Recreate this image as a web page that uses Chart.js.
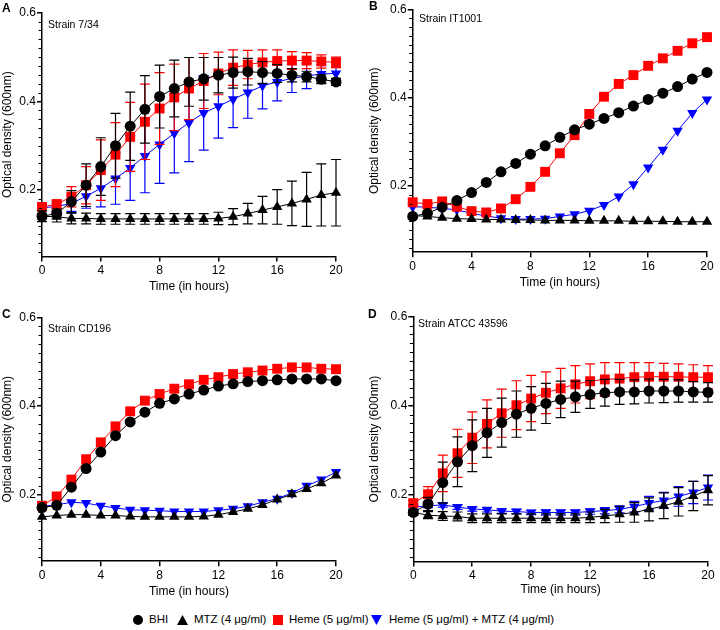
<!DOCTYPE html>
<html>
<head>
<meta charset="utf-8">
<script src="https://cdn.jsdelivr.net/npm/chart.js@4/dist/chart.umd.min.js"></script>
<style>
  body { margin: 0; background: #fff; width: 720px; height: 630px; position: relative; overflow: hidden;
         font-family: 'Liberation Sans', Arial, sans-serif; color: #000; }
  canvas { position: absolute; }
  .lbl { position: absolute; line-height: 1; white-space: nowrap; }
  .letter { font-weight: bold; font-size: 12px; }
  .strain { font-size: 10.5px; }
  .mk { position: absolute; }
  .lt { position: absolute; font-size: 11.5px; line-height: 1; white-space: nowrap; }
</style>
</head>
<body>
<canvas id="chartA" width="360" height="300" style="left:0;top:0"></canvas>
<canvas id="chartB" width="360" height="300" style="left:360px;top:0"></canvas>
<canvas id="chartC" width="360" height="300" style="left:0;top:300px"></canvas>
<canvas id="chartD" width="360" height="300" style="left:360px;top:300px"></canvas>

<div class="lbl letter" style="left:2px;top:2px">A</div>
<div class="lbl letter" style="left:369px;top:0px">B</div>
<div class="lbl letter" style="left:2px;top:308px">C</div>
<div class="lbl letter" style="left:368px;top:308px">D</div>

<div class="lbl strain" style="left:48px;top:19px">Strain 7/34</div>
<div class="lbl strain" style="left:419px;top:13px">Strain IT1001</div>
<div class="lbl strain" style="left:48px;top:323px">Strain CD196</div>
<div class="lbl strain" style="left:418px;top:318px">Strain ATCC 43596</div>

<div id="legend"></div>

<script>
// time points (hours)
const hours = [0, 1, 2, 3, 4, 5, 6, 7, 8, 9, 10, 11, 12, 13, 14, 15, 16, 17, 18, 19, 20];
const xTicks = [0, 4, 8, 12, 16, 20];
const yTicks = [0.2, 0.4, 0.6];
const seriesNames = ['BHI', 'MTZ (4 μg/ml)', 'Heme (5 μg/ml)', 'Heme (5 μg/ml) + MTZ (4 μg/ml)'];

// A - Strain 7/34
const bhiA = [0.141, 0.147, 0.174, 0.211, 0.253, 0.300, 0.344, 0.382, 0.411, 0.429, 0.444, 0.451, 0.459, 0.465, 0.467, 0.465, 0.463, 0.459, 0.456, 0.450, 0.444];
const bhiErrA = [0.006, 0.010, 0.025, 0.048, 0.065, 0.073, 0.077, 0.076, 0.071, 0.064, 0.055, 0.048, 0.040, 0.035, 0.030, 0.025, 0.020, 0.015, 0.012, 0.010, 0.008];
const mtzA = [0.141, 0.140, 0.136, 0.136, 0.135, 0.135, 0.135, 0.135, 0.135, 0.135, 0.135, 0.135, 0.136, 0.140, 0.147, 0.155, 0.162, 0.170, 0.179, 0.189, 0.194];
const mtzErrA = [0.012, 0.012, 0.012, 0.012, 0.012, 0.012, 0.012, 0.012, 0.012, 0.012, 0.012, 0.012, 0.014, 0.018, 0.023, 0.031, 0.039, 0.050, 0.061, 0.070, 0.075];
const hemeA = [0.162, 0.168, 0.185, 0.211, 0.245, 0.280, 0.320, 0.354, 0.384, 0.409, 0.429, 0.446, 0.463, 0.476, 0.483, 0.488, 0.491, 0.492, 0.492, 0.490, 0.488];
const hemeErrA = [0.008, 0.010, 0.023, 0.042, 0.068, 0.072, 0.078, 0.085, 0.081, 0.075, 0.070, 0.062, 0.048, 0.040, 0.032, 0.028, 0.025, 0.020, 0.018, 0.015, 0.012];
const comboA = [0.160, 0.163, 0.170, 0.186, 0.204, 0.226, 0.250, 0.277, 0.303, 0.328, 0.352, 0.374, 0.389, 0.405, 0.420, 0.435, 0.444, 0.452, 0.457, 0.462, 0.463];
const comboErrA = [0.006, 0.010, 0.018, 0.027, 0.042, 0.058, 0.073, 0.083, 0.088, 0.089, 0.088, 0.084, 0.072, 0.064, 0.058, 0.052, 0.043, 0.032, 0.028, 0.021, 0.015];

// B - Strain IT1001
const bhiB = [0.131, 0.138, 0.152, 0.167, 0.185, 0.208, 0.232, 0.251, 0.272, 0.291, 0.310, 0.327, 0.340, 0.353, 0.366, 0.381, 0.396, 0.410, 0.425, 0.442, 0.457];
const mtzB = [0.133, 0.131, 0.128, 0.126, 0.125, 0.124, 0.124, 0.123, 0.123, 0.122, 0.122, 0.122, 0.121, 0.121, 0.121, 0.120, 0.120, 0.120, 0.119, 0.119, 0.119];
const hemeB = [0.163, 0.159, 0.165, 0.153, 0.143, 0.140, 0.149, 0.170, 0.198, 0.232, 0.274, 0.315, 0.363, 0.402, 0.431, 0.451, 0.472, 0.489, 0.506, 0.523, 0.537];
const comboB = [0.153, 0.152, 0.149, 0.146, 0.138, 0.132, 0.127, 0.125, 0.125, 0.126, 0.131, 0.136, 0.144, 0.157, 0.176, 0.204, 0.242, 0.282, 0.325, 0.365, 0.396];

// C - Strain CD196
const bhiC = [0.171, 0.176, 0.217, 0.259, 0.296, 0.333, 0.364, 0.386, 0.406, 0.416, 0.427, 0.436, 0.445, 0.450, 0.455, 0.457, 0.459, 0.461, 0.461, 0.461, 0.457];
const mtzC = [0.150, 0.153, 0.155, 0.155, 0.153, 0.153, 0.151, 0.150, 0.150, 0.150, 0.150, 0.151, 0.155, 0.161, 0.168, 0.177, 0.189, 0.201, 0.213, 0.226, 0.243];
const hemeC = [0.175, 0.196, 0.234, 0.280, 0.318, 0.354, 0.388, 0.412, 0.427, 0.439, 0.449, 0.459, 0.465, 0.472, 0.476, 0.480, 0.484, 0.487, 0.487, 0.484, 0.483];
const comboC = [0.174, 0.177, 0.183, 0.181, 0.175, 0.170, 0.166, 0.165, 0.164, 0.162, 0.162, 0.162, 0.165, 0.168, 0.174, 0.183, 0.191, 0.204, 0.220, 0.234, 0.251];

// D - Strain ATCC 43596
const bhiD = [0.160, 0.179, 0.227, 0.274, 0.310, 0.339, 0.362, 0.381, 0.394, 0.405, 0.414, 0.420, 0.425, 0.429, 0.431, 0.431, 0.433, 0.433, 0.433, 0.431, 0.430];
const bhiErrD = [0.005, 0.015, 0.046, 0.056, 0.058, 0.055, 0.055, 0.052, 0.049, 0.045, 0.041, 0.035, 0.031, 0.030, 0.028, 0.027, 0.027, 0.026, 0.025, 0.023, 0.022];
const mtzD = [0.160, 0.154, 0.152, 0.151, 0.147, 0.147, 0.147, 0.147, 0.147, 0.147, 0.147, 0.147, 0.149, 0.152, 0.156, 0.160, 0.167, 0.175, 0.184, 0.197, 0.210];
const mtzErrD = [0.006, 0.008, 0.010, 0.010, 0.010, 0.010, 0.010, 0.010, 0.010, 0.010, 0.010, 0.010, 0.012, 0.015, 0.018, 0.022, 0.026, 0.029, 0.032, 0.033, 0.033];
const hemeD = [0.181, 0.201, 0.248, 0.293, 0.328, 0.359, 0.383, 0.401, 0.416, 0.429, 0.439, 0.448, 0.455, 0.459, 0.461, 0.464, 0.465, 0.465, 0.465, 0.464, 0.464];
const hemeErrD = [0.006, 0.017, 0.041, 0.054, 0.058, 0.054, 0.054, 0.055, 0.052, 0.047, 0.045, 0.042, 0.039, 0.038, 0.036, 0.033, 0.032, 0.030, 0.029, 0.028, 0.026];
const comboD = [0.172, 0.175, 0.177, 0.172, 0.168, 0.166, 0.163, 0.162, 0.160, 0.160, 0.160, 0.160, 0.162, 0.164, 0.167, 0.173, 0.181, 0.187, 0.196, 0.205, 0.216];
const comboErrD = [0.004, 0.004, 0.005, 0.005, 0.005, 0.005, 0.005, 0.005, 0.005, 0.006, 0.006, 0.006, 0.006, 0.007, 0.008, 0.012, 0.015, 0.018, 0.022, 0.025, 0.028];

const FONT = "'Liberation Sans', Arial, sans-serif";

// marker look per series (same order as seriesNames)
const looks = [
  { color: '#000000', style: 'circle', radius: 5.5, rotation: 0 },
  { color: '#000000', style: 'triangle', radius: 6, rotation: 0 },
  { color: '#ff0000', style: 'rect', radius: 7, rotation: 0 },
  { color: '#0000ff', style: 'triangle', radius: 6, rotation: 180 }
];

// error bars drawn just before each dataset so the layering follows the series
const errorBars = {
  id: 'errorBars',
  beforeDatasetDraw(chart, args) {
    const ds = chart.data.datasets[args.index];
    if (!ds.errors) return;
    const y = chart.scales.y;
    const ctx = chart.ctx;
    ctx.save();
    ctx.strokeStyle = ds.borderColor;
    ctx.lineWidth = 1.2;
    ctx.beginPath();
    args.meta.data.forEach((pt, i) => {
      const e = ds.errors[i];
      if (!e) return;
      const v = ds.data[i].y;
      const top = y.getPixelForValue(v + e);
      const bot = y.getPixelForValue(v - e);
      ctx.moveTo(pt.x, top); ctx.lineTo(pt.x, bot);
      ctx.moveTo(pt.x - 5, top); ctx.lineTo(pt.x + 5, top);
      ctx.moveTo(pt.x - 5, bot); ctx.lineTo(pt.x + 5, bot);
    });
    ctx.stroke();
    ctx.restore();
  }
};

// small ticks every 0.02 on the y axis
const minorTicks = {
  id: 'minorTicks',
  afterDraw(chart) {
    const y = chart.scales.y;
    const ctx = chart.ctx;
    const x0 = chart.chartArea.left;
    ctx.save();
    ctx.strokeStyle = '#000';
    ctx.lineWidth = 1;
    ctx.beginPath();
    for (let k = 3; k < 30; k++) {
      if (k % 10 === 0) continue;
      const py = Math.round(y.getPixelForValue(k * 0.02)) + 0.5;
      ctx.moveTo(x0, py);
      ctx.lineTo(x0 - 3.5, py);
    }
    ctx.stroke();
    ctx.restore();
  }
};

function makePanel(id, values, errors, g) {
  const datasets = values.map((vals, s) => ({
    label: seriesNames[s],
    data: hours.map((h, i) => ({ x: h, y: vals[i] })),
    errors: errors ? errors[s] : null,
    borderColor: looks[s].color,
    backgroundColor: looks[s].color,
    borderWidth: 1,
    pointStyle: looks[s].style,
    pointRadius: looks[s].radius,
    pointRotation: looks[s].rotation,
    pointBorderWidth: 0,
    pointBackgroundColor: looks[s].color,
    tension: 0,
    clip: false
  }));

  new Chart(document.getElementById(id), {
    type: 'line',
    data: { datasets: datasets },
    plugins: [errorBars, minorTicks],
    options: {
      responsive: false,
      animation: false,
      events: [],
      layout: { padding: { left: 0, top: g.top, right: 360 - g.right, bottom: 0 } },
      plugins: { legend: { display: false }, tooltip: { enabled: false } },
      scales: {
        x: {
          type: 'linear',
          min: 0, max: 20,
          afterBuildTicks: s => { s.ticks = xTicks.map(v => ({ value: v })); },
          afterFit: s => { s.height = 300 - g.bottom; },
          ticks: { color: '#000', font: { family: FONT, size: 12 }, padding: 2, maxRotation: 0, autoSkip: false },
          grid: { display: true, drawOnChartArea: false, color: '#000', lineWidth: 1.5, tickLength: 5 },
          border: { display: true, color: '#000', width: 1.5 },
          title: { display: true, text: 'Time (in hours)', color: '#000',
                   font: { family: FONT, size: 12 }, padding: { top: 0, bottom: g.xTitle } }
        },
        y: {
          type: 'linear',
          min: 0.05, max: 0.6,
          afterBuildTicks: s => { s.ticks = yTicks.map(v => ({ value: v })); },
          afterFit: s => { s.width = g.left; },
          ticks: { color: '#000', font: { family: FONT, size: 12 }, padding: 1,
                   callback: v => v.toFixed(1) },
          grid: { display: true, drawOnChartArea: false, color: '#000', lineWidth: 1.5, tickLength: 5 },
          border: { display: true, color: '#000', width: 1.5 },
          title: { display: true, text: 'Optical density (600nm)', color: '#000',
                   font: { family: FONT, size: 12 }, padding: { top: g.yTitle, bottom: 0 } }
        }
      }
    }
  });
}

makePanel('chartA', [bhiA, mtzA, hemeA, comboA], [bhiErrA, mtzErrA, hemeErrA, comboErrA],
  { left: 42, right: 336, top: 12.7, bottom: 256.6, yTitle: 0.8, xTitle: 5.8 });
makePanel('chartB', [bhiB, mtzB, hemeB, comboB], null,
  { left: 52.7, right: 347, top: 9.3, bottom: 252.2, yTitle: 7.3, xTitle: 9.8 });
makePanel('chartC', [bhiC, mtzC, hemeC, comboC], null,
  { left: 42, right: 336, top: 17.3, bottom: 261.2, yTitle: 0.8, xTitle: 1.1 });
makePanel('chartD', [bhiD, mtzD, hemeD, comboD], [bhiErrD, mtzErrD, hemeErrD, comboErrD],
  { left: 53.3, right: 348, top: 16.7, bottom: 261.4, yTitle: 7.3, xTitle: 2.8 });

// shared legend under the panels
const legendPos = [
  { mark: 133, text: 149 },
  { mark: 177, text: 194 },
  { mark: 273, text: 289 },
  { mark: 371, text: 389 }
];
const legend = document.getElementById('legend');
seriesNames.forEach((name, s) => {
  const m = document.createElement('div');
  m.className = 'mk';
  const lk = looks[s];
  let w = 10, h = 10, extra = '';
  if (lk.style === 'circle') extra = 'border-radius:50%;';
  if (lk.style === 'triangle') {
    w = 11;
    extra = lk.rotation ? 'clip-path:polygon(0 0,100% 0,50% 100%);' : 'clip-path:polygon(50% 0,100% 100%,0 100%);';
  }
  m.style.cssText = `left:${legendPos[s].mark}px;top:${620 - h / 2}px;width:${w}px;height:${h}px;background:${lk.color};${extra}`;
  legend.appendChild(m);
  const t = document.createElement('div');
  t.className = 'lt';
  t.style.left = legendPos[s].text + 'px';
  t.style.top = (620 - 0.49 * 11.5) + 'px';
  t.textContent = name;
  legend.appendChild(t);
});
</script>
</body>
</html>
